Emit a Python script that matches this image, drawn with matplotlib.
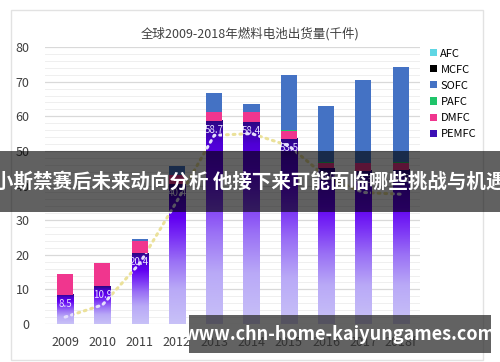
import matplotlib
matplotlib.use("Agg")
import matplotlib.pyplot as plt
from matplotlib.colors import LinearSegmentedColormap
from matplotlib.patches import Patch, Rectangle
from matplotlib.path import Path
import numpy as np

plt.rcParams["font.family"] = ["Noto Sans CJK SC", "DejaVu Sans"]

# ---------------------------------------------------------------------------
# data (thousand units shipped)
# ---------------------------------------------------------------------------
years = ["2009", "2010", "2011", "2012", "2013", "2014", "2015", "2016", "2017", "2018f"]
pemfc = [8.5, 10.9, 20.4, 40.4, 58.7, 58.4, 53.5, 45.0, 44.3, 44.5]
dmfc = [5.8, 6.7, 3.7, 2.6, 2.5, 2.7, 2.3, 1.6, 2.1, 2.1]
pafc = [0.0, 0.0, 0.0, 0.0, 0.1, 0.1, 0.1, 0.1, 0.1, 0.1]
sofc = [0.0, 0.0, 0.4, 2.7, 5.5, 2.3, 16.1, 16.4, 23.9, 27.6]
mcfc = [0.0, 0.0, 0.0, 0.0, 0.0, 0.1, 0.0, 0.0, 0.0, 0.0]
afc = [0.0, 0.0, 0.0, 0.0, 0.0, 0.0, 0.0, 0.0, 0.0, 0.0]
trend = [2.0, 5.5, 17.5, 35.5, 54.5, 55.0, 51.5, 42.5, 38.0, 37.5]

COLORS = {"AFC": "#5fd6e4", "MCFC": "#000000", "SOFC": "#4472c4",
          "PAFC": "#1fc46a", "DMFC": "#f0368e", "PEMFC": "#3c0fb5"}
grad = LinearSegmentedColormap.from_list(
    "pem", [(0.0, "#c8c1f7"), (0.25, "#b9a9f7"), (0.45, "#9a70f5"),
            (0.62, "#7a30f5"), (0.76, "#6200f2"), (0.89, "#4e00d4"),
            (1.0, "#2a0880")])

fig = plt.figure(figsize=(5.0, 3.62), dpi=100)
fig.patch.set_facecolor("white")

# light card frame around the chart (behind the axes)
fig.patches.append(Rectangle((11 / 500, 2 / 362), 472 / 500, 350 / 362,
                             transform=fig.transFigure, fc="none", ec="#e2e2e2",
                             lw=1.0, zorder=-1))

ax = fig.add_axes([0.09, 0.105, 0.75, 0.765])
ax.patch.set_alpha(0)
x = np.arange(len(years))
w = 0.43

# PEMFC: invisible bars, filled with a vertical gradient
bars = ax.bar(x, pemfc, w, color="none", zorder=2)
for r in bars:
    x0, h = r.get_x(), r.get_height()
    ax.imshow(np.linspace(0, 1, 256).reshape(-1, 1), cmap=grad, origin="lower",
              extent=[x0, x0 + r.get_width(), 0, h], aspect="auto", zorder=2)

bottom = np.array(pemfc, dtype=float)
for name, vals in [("DMFC", dmfc), ("PAFC", pafc), ("SOFC", sofc),
                   ("MCFC", mcfc), ("AFC", afc)]:
    ax.bar(x, vals, w, bottom=bottom, color=COLORS[name], zorder=2, lw=0)
    bottom += np.array(vals)

# dotted trend line: khaki behind the bars, pale lavender where it crosses them
ax.plot(x, trend, color="#ebe19a", lw=2.2, ls=(0, (0.6, 1.6)),
        dash_capstyle="round", zorder=1.5)
over = ax.plot(x, trend, color="#e4defc", lw=2.2, ls=(0, (0.6, 1.6)),
               dash_capstyle="round", zorder=3)[0]
clip = Path.make_compound_path(*[r.get_path().transformed(r.get_patch_transform())
                                 for r in bars])
over.set_clip_path(clip, ax.transData)

for xi, v in zip(x, pemfc):
    ax.text(xi, v - 2.6, f"{v:.1f}", ha="center", va="center", fontsize=7,
            color="#e8e4ff", zorder=4)

ax.set_xlim(-0.54, 9.52)
ax.set_ylim(0, 80)
ax.set_yticks(range(0, 81, 10))
ax.set_yticks(range(0, 81, 2), minor=True)
ax.set_xticks(x)
ax.set_xticklabels(years)
ax.grid(axis="y", which="major", color="#d9d9d9", lw=0.9, zorder=0)
ax.grid(axis="y", which="minor", color="#efefef", lw=0.7, zorder=0)
ax.set_axisbelow(True)
ax.tick_params(which="both", length=0, labelsize=9, colors="#404040")
ax.tick_params(axis="y", pad=11)
ax.tick_params(axis="x", pad=9)
for s in ax.spines.values():
    s.set_visible(False)

fig.text(0.5, 0.908, "全球2009-2018年燃料电池出货量(千件)", ha="center", va="center",
         fontsize=9, color="#404040")

order = ["AFC", "MCFC", "SOFC", "PAFC", "DMFC", "PEMFC"]
handles = [Patch(fc=COLORS[k], ec="none") for k in order]
fig.legend(handles, order, loc="upper left", bbox_to_anchor=(0.852, 0.878),
           frameon=False, fontsize=8, handlelength=0.6, handleheight=0.6,
           handletextpad=0.3, labelspacing=0.55, borderaxespad=0)

# overlay banners
fig.patches.append(Rectangle((0, (362 - 212) / 362), 1, 61 / 362,
                             transform=fig.transFigure, fc="black", alpha=0.62, zorder=10))
fig.text(0.5, (362 - 182) / 362, "小斯禁赛后未来动向分析 他接下来可能面临哪些挑战与机遇",
         ha="center", va="center", fontsize=14, fontweight="bold", color="white", zorder=11)
fig.patches.append(Rectangle((189 / 500, (362 - 353) / 362), 302 / 500, 38 / 362,
                             transform=fig.transFigure, fc="#2e2e2e", alpha=0.75, zorder=10))
fig.text(340 / 500, (362 - 334) / 362, "www.chn-home-kaiyungames.com",
         ha="center", va="center", fontsize=13, fontweight="bold", color="white", zorder=11)

fig.savefig("out.png", dpi=100)
